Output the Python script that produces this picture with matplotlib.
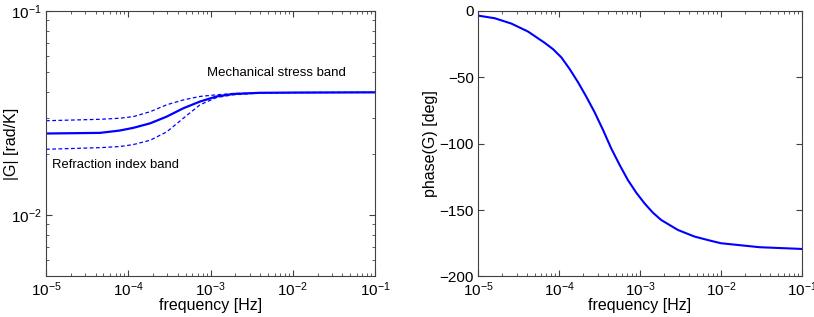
import matplotlib
matplotlib.use("Agg")
import matplotlib.pyplot as plt
from matplotlib.ticker import LogLocator

plt.rcParams['font.family'] = ['Liberation Sans', 'DejaVu Sans']
plt.rcParams['mathtext.fontset'] = 'custom'
plt.rcParams['mathtext.rm'] = 'Liberation Sans'
plt.rcParams['mathtext.it'] = 'Liberation Sans'
plt.rcParams['font.size'] = 11

# frequency grid [Hz] for the magnitude curves
freq = [1e-5, 4.54e-5, 7.9e-5, 1.15e-4, 1.84e-4, 2.93e-4, 4.67e-4, 7.45e-4,
        1.19e-3, 1.89e-3, 4e-3, 1e-2, 1e-1]

# |G| [rad/K]: nominal and band edges
mag = [0.02508, 0.02526, 0.02594, 0.02673, 0.02812, 0.03034, 0.03334,
       0.03597, 0.03811, 0.03917, 0.0397, 0.0398, 0.0399]
mag_upper = [0.02897, 0.02944, 0.0298, 0.03034, 0.03206, 0.03467, 0.03664,
             0.03811, 0.03882, 0.0394, 0.0397, 0.0398, 0.0399]
mag_lower = [0.02099, 0.02138, 0.02165, 0.02213, 0.02323, 0.02553, 0.02979,
             0.03467, 0.03767, 0.03882, 0.0396, 0.0398, 0.0399]

# phase(G) [deg]
phase_freq = [1e-5, 1.61e-5, 2.58e-5, 4.14e-5, 6.65e-5, 8.43e-5, 1.07e-4,
              1.355e-4, 1.72e-4, 2.17e-4, 2.75e-4, 3.49e-4, 4.43e-4, 5.61e-4,
              7.11e-4, 9.02e-4, 1.14e-3, 1.445e-3, 1.83e-3, 2.94e-3, 4.73e-3,
              7.6e-3, 1e-2, 3e-2, 1e-1]
phase = [-3.5, -5.5, -9.5, -15.5, -24, -28.75, -35, -43.75, -53.75, -64.5,
         -76.25, -89.5, -103.75, -116, -127.5, -137, -145, -152, -157.5,
         -165, -170, -173.25, -175, -178, -179.3]

blue = (0, 0, 1)
fig = plt.figure(figsize=(8.14, 3.17), dpi=100)
ax1 = fig.add_axes([0.0565, 0.128, 0.4042, 0.8375])
ax2 = fig.add_axes([0.5872, 0.128, 0.398, 0.8375])

ax1.loglog(freq, mag, color=blue, lw=1.6)
ax1.loglog(freq, mag_upper, color=blue, lw=0.9, ls=(0, (3, 2)))
ax1.loglog(freq, mag_lower, color=blue, lw=0.9, ls=(0, (3, 2)))
ax1.set_xlim(1e-5, 1e-1)
ax1.set_ylim(0.005, 0.1)
ax1.set_xlabel("frequency [Hz]", fontsize=11.5, labelpad=-1)
ax1.set_ylabel("|G| [rad/K]", fontsize=11.5)
ax1.yaxis.set_label_coords(-0.082, 0.5)
ax1.text(9.1e-4, 0.0482, "Mechanical stress band", fontsize=9.5)
ax1.text(1.18e-5, 0.0169, "Refraction index band", fontsize=9.4)

ax2.semilogx(phase_freq, phase, color=blue, lw=1.5)
ax2.set_xlim(1e-5, 1e-1)
ax2.set_ylim(-200, 0)
ax2.set_yticks([-200, -150, -100, -50, 0])
ax2.set_yticklabels(["\u2212200", "\u2212150", "\u2212100", "\u221250", "0"])
ax2.set_xlabel("frequency [Hz]", fontsize=11.5, labelpad=-1)
ax2.set_ylabel("phase(G) [deg]", fontsize=11.5)
ax2.yaxis.set_label_coords(-0.123, 0.5)

for ax in (ax1, ax2):
    ax.set_xticks([1e-5, 1e-4, 1e-3, 1e-2, 1e-1])
    ax.xaxis.set_minor_locator(LogLocator(base=10, subs=range(2, 10), numticks=20))
    ax.tick_params(which='both', direction='in', top=True, right=True,
                   colors='#404040', labelcolor='black', pad=3)
    ax.tick_params(which='major', length=4)
    ax.tick_params(which='minor', length=2)
    for s in ax.spines.values():
        s.set_color('#404040')
        s.set_linewidth(0.8)

fig.savefig("out.png", dpi=100)
